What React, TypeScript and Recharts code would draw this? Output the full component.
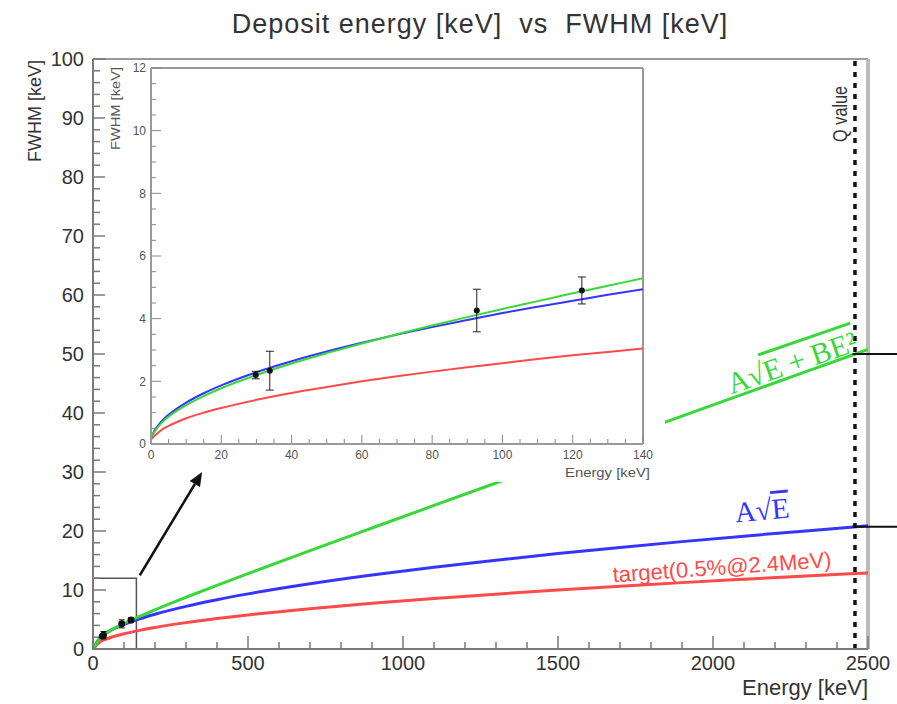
import React from "react";
import {
  ComposedChart,
  Line,
  XAxis,
  YAxis,
  Scatter,
  ErrorBar,
  ReferenceLine,
  ReferenceArea,
  ReferenceDot,
} from "recharts";

const SANS = '"Liberation Sans", Arial, Helvetica, sans-serif';
const SERIF = '"Liberation Serif", "Times New Roman", serif';
const RED = "#ff4a4a";
const BLUE = "#3535ff";
const GREEN = "#38d838";
const INK = "#333";
const FRAME = "#7a7a7a";

// full range panel, curves
const energy = [0, 25, 50, 100, 150, 200, 300, 400, 500, 700, 900, 1100, 1300, 1500, 1700, 1900, 2100, 2300, 2500];
const target = [0, 1.29, 1.82, 2.58, 3.16, 3.65, 4.47, 5.16, 5.77, 6.83, 7.74, 8.56, 9.3, 9.99, 10.64, 11.25, 11.82, 12.37, 12.9];
const sqrtFit = [0, 2.09, 2.95, 4.18, 5.11, 5.9, 7.23, 8.35, 9.34, 11.05, 12.53, 13.85, 15.05, 16.17, 17.21, 18.2, 19.13, 20.02, 20.88];
const quadFit = [0, 2.0, 2.9, 4.31, 5.52, 6.65, 8.77, 10.8, 12.78, 16.67, 20.51, 24.33, 28.13, 31.91, 35.69, 39.47, 43.24, 47.01, 50.77];

// zoomed panel (0-140 keV)
const zoomEnergy = [0, 1, 2, 4, 6, 10, 15, 20, 30, 40, 50, 60, 70, 80, 90, 100, 110, 120, 130, 140];
const zoomTarget = [0.15, 0.26, 0.36, 0.52, 0.63, 0.82, 1.0, 1.15, 1.41, 1.63, 1.82, 2.0, 2.16, 2.31, 2.45, 2.58, 2.71, 2.83, 2.94, 3.05];
const zoomSqrt = [0.2, 0.42, 0.59, 0.84, 1.02, 1.32, 1.62, 1.87, 2.29, 2.64, 2.95, 3.23, 3.49, 3.73, 3.96, 4.18, 4.38, 4.57, 4.76, 4.94];
const zoomQuad = [0.2, 0.39, 0.55, 0.78, 0.96, 1.24, 1.53, 1.78, 2.2, 2.57, 2.9, 3.21, 3.5, 3.78, 4.05, 4.31, 4.56, 4.81, 5.05, 5.29];

// measured peaks
const peakEnergy = [29.8, 33.8, 92.7, 122.6];
const peakFwhm = [2.2, 2.34, 4.26, 4.9];
const peakErr = [0.12, 0.62, 0.68, 0.43];

const Q_VALUE = 2458;
const mainXTicks = Array.from({ length: 26 }, (_, i) => i * 100);
const mainYTicks = Array.from({ length: 51 }, (_, i) => i * 2);
const zoomXTicks = Array.from({ length: 29 }, (_, i) => i * 5);
const zoomYTicks = Array.from({ length: 25 }, (_, i) => i * 0.5);

const mainRows = energy.map((e, i) => ({ e, target: target[i], sqrtFit: sqrtFit[i], quadFit: quadFit[i] }));
const zoomRows = zoomEnergy.map((e, i) => ({ e, target: zoomTarget[i], sqrtFit: zoomSqrt[i], quadFit: zoomQuad[i] }));
const peaks = peakEnergy.map((e, i) => ({ e, fwhm: peakFwhm[i], err: peakErr[i] }));

// tick marks inside the frame (ROOT style), drawn as half-length bars from the axis inward.
// unitsPerPx converts the mark length in pixels to data units of the other axis.
const marksAlongX = (ticks: number[], every: number, big: number, small: number, unitsPerPx: number) =>
  ticks.map((v) => {
    const half = ((v % every === 0 ? big : small) * unitsPerPx) / 2;
    return { e: v, fwhm: half, half };
  });
const marksAlongY = (ticks: number[], every: number, big: number, small: number, unitsPerPx: number) =>
  ticks.map((v) => {
    const half = ((v % every === 0 ? big : small) * unitsPerPx) / 2;
    return { e: half, fwhm: v, half };
  });

const mainXMarks = marksAlongX(mainXTicks, 500, 13, 7, 100 / 590);
const mainYMarks = marksAlongY(mainYTicks, 10, 13, 7, 2500 / 775);
const zoomXMarks = marksAlongX(zoomXTicks, 20, 9, 5, 12 / 376);
const zoomYMarks = marksAlongY(zoomYTicks, 2, 10, 5, 140 / 492);

type LabelOpts = { every: number; fs: number; gap: number; col: string };

// axis labels only on the major ticks
const labelX = (o: LabelOpts) => (p: any) => {
  const v = p.payload.value;
  if (v % o.every !== 0) return <g />;
  return (
    <text x={p.x} y={Number(p.y) + o.gap} textAnchor="middle" fontSize={o.fs} fill={o.col} fontFamily={SANS}>
      {v}
    </text>
  );
};

const labelY = (o: LabelOpts) => (p: any) => {
  const v = p.payload.value;
  if (v % o.every !== 0) return <g />;
  return (
    <text x={Number(p.x) - o.gap} y={p.y} dy="0.36em" textAnchor="end" fontSize={o.fs} fill={o.col} fontFamily={SANS}>
      {v}
    </text>
  );
};

const noMarker = () => <g />;

const arrowShape = (p: any) => {
  const { x1, y1, x2, y2 } = p;
  const a = Math.atan2(y2 - y1, x2 - x1);
  const len = 14;
  const half = 6;
  const bx = x2 - len * Math.cos(a);
  const by = y2 - len * Math.sin(a);
  const pts = [
    `${x2},${y2}`,
    `${bx + half * Math.sin(a)},${by - half * Math.cos(a)}`,
    `${bx - half * Math.sin(a)},${by + half * Math.cos(a)}`,
  ].join(" ");
  return (
    <g>
      <line x1={x1} y1={y1} x2={bx} y2={by} stroke="#111" strokeWidth={2.5} />
      <polygon points={pts} fill="#111" />
    </g>
  );
};

const noteAt = (render: (x: number, y: number) => React.ReactNode) => (p: any) => {
  const vb = p.viewBox || {};
  return <g>{render(vb.x, vb.y)}</g>;
};

function MainChart() {
  return (
    <ComposedChart width={897} height={704} data={mainRows} margin={{ top: 59, right: 29, bottom: 15, left: 23 }}>
      <XAxis
        dataKey="e"
        type="number"
        domain={[0, 2500]}
        allowDataOverflow
        ticks={mainXTicks}
        interval={0}
        tickSize={0}
        tickMargin={0}
        height={40}
        axisLine={{ stroke: FRAME, strokeWidth: 2 }}
        tickLine={false}
        tick={labelX({ every: 500, fs: 20, gap: 21, col: INK })}
        label={{
          content: (p: any) => (
            <text x={p.viewBox.x + p.viewBox.width} y={p.viewBox.y + 46} textAnchor="end" fontSize={22} fill={INK} fontFamily={SANS}>
              Energy [keV]
            </text>
          ),
        }}
      />
      <YAxis
        type="number"
        domain={[0, 100]}
        allowDataOverflow
        ticks={mainYTicks}
        interval={0}
        tickSize={0}
        tickMargin={0}
        width={70}
        axisLine={{ stroke: FRAME, strokeWidth: 2 }}
        tickLine={false}
        tick={labelY({ every: 10, fs: 20, gap: 9, col: INK })}
        label={{
          content: (p: any) => {
            const x = p.viewBox.x + 18;
            const y = p.viewBox.y + 1;
            return (
              <text x={x} y={y} transform={`rotate(-90 ${x} ${y})`} textAnchor="end" fontSize={18} fill={INK} fontFamily={SANS}>
                FWHM [keV]
              </text>
            );
          },
        }}
      />
      <ReferenceLine y={100} stroke="#999" strokeWidth={2} />
      <ReferenceLine x={2500} stroke="#bbb" strokeWidth={4} />
      <Scatter data={mainXMarks} dataKey="fwhm" shape={noMarker} isAnimationActive={false}>
        <ErrorBar dataKey="half" direction="y" width={0} stroke={FRAME} strokeWidth={1.5} />
      </Scatter>
      <Scatter data={mainYMarks} dataKey="fwhm" shape={noMarker} isAnimationActive={false}>
        <ErrorBar dataKey="half" direction="x" width={0} stroke={FRAME} strokeWidth={1.5} />
      </Scatter>

      <Line dataKey="target" stroke={RED} strokeWidth={3} dot={false} type="monotone" isAnimationActive={false} />
      <Line dataKey="sqrtFit" stroke={BLUE} strokeWidth={3} dot={false} type="monotone" isAnimationActive={false} />
      <Line dataKey="quadFit" stroke={GREEN} strokeWidth={3} dot={false} type="monotone" isAnimationActive={false} />
      <Scatter data={peaks} dataKey="fwhm" fill="#111" shape={(p: any) => <circle cx={p.cx} cy={p.cy} r={3.5} fill="#111" />} isAnimationActive={false}>
        <ErrorBar dataKey="err" direction="y" width={3} stroke="#111" strokeWidth={1} />
      </Scatter>

      <ReferenceArea x1={0} x2={140} y1={0} y2={12} fill="none" stroke="#555" strokeWidth={1.5} />
      <ReferenceLine segment={[{ x: 151, y: 12.5 }, { x: 352, y: 30 }]} ifOverflow="visible" shape={arrowShape} />

      <ReferenceLine x={Q_VALUE} stroke="#111" strokeWidth={3.5} strokeDasharray="5 6" />
      <ReferenceLine segment={[{ x: 2450, y: 50 }, { x: 2600, y: 50 }]} ifOverflow="visible" stroke="#111" strokeWidth={2} />
      <ReferenceLine segment={[{ x: 2450, y: 20.7 }, { x: 2600, y: 20.7 }]} ifOverflow="visible" stroke="#111" strokeWidth={2} />

      <ReferenceDot
        x={2410}
        y={90.7}
        r={0}
        ifOverflow="visible"
        label={{
          content: noteAt((x, y) => (
            <text
              x={x}
              y={y}
              transform={`rotate(-90 ${x} ${y})`}
              textAnchor="middle"
              dy="0.35em"
              fontSize={20}
              fill={INK}
              fontFamily={SANS}
              textLength={56}
              lengthAdjust="spacingAndGlyphs"
            >
              Q value
            </text>
          )),
        }}
      />
      <ReferenceDot
        x={2255}
        y={48.6}
        r={0}
        ifOverflow="visible"
        label={{
          content: noteAt((x, y) => (
            <text x={x} y={y} transform={`rotate(-19 ${x} ${y})`} textAnchor="middle" dy="0.35em" fontSize={30} fill={GREEN} fontFamily={SERIF}>
              A√<tspan textDecoration="overline">E + BE²</tspan>
            </text>
          )),
        }}
      />
      <ReferenceDot
        x={2158}
        y={23.6}
        r={0}
        ifOverflow="visible"
        label={{
          content: noteAt((x, y) => (
            <text x={x} y={y} transform={`rotate(-5 ${x} ${y})`} textAnchor="middle" dy="0.35em" fontSize={29} fill={BLUE} fontFamily={SERIF}>
              A√<tspan textDecoration="overline">E</tspan>
            </text>
          )),
        }}
      />
      <ReferenceDot
        x={2029}
        y={13.9}
        r={0}
        ifOverflow="visible"
        label={{
          content: noteAt((x, y) => (
            <text x={x} y={y} transform={`rotate(-4 ${x} ${y})`} textAnchor="middle" dy="0.35em" fontSize={22} fill={RED} fontFamily={SANS}>
              target(0.5%@2.4MeV)
            </text>
          )),
        }}
      />
    </ComposedChart>
  );
}

function ZoomChart() {
  return (
    <ComposedChart width={560} height={421} data={zoomRows} margin={{ top: 7, right: 22, bottom: 5, left: 6 }}>
      <XAxis
        dataKey="e"
        type="number"
        domain={[0, 140]}
        allowDataOverflow
        ticks={zoomXTicks}
        interval={0}
        tickSize={0}
        tickMargin={0}
        height={33}
        axisLine={{ stroke: "#999", strokeWidth: 2 }}
        tickLine={false}
        tick={labelX({ every: 20, fs: 12, gap: 15, col: "#555" })}
        label={{
          content: (p: any) => (
            <text
              x={p.viewBox.x + p.viewBox.width + 7}
              y={p.viewBox.y + 33}
              textAnchor="end"
              fontSize={12}
              fill="#555"
              fontFamily={SANS}
              textLength={85}
              lengthAdjust="spacingAndGlyphs"
            >
              Energy [keV]
            </text>
          ),
        }}
      />
      <YAxis
        type="number"
        domain={[0, 12]}
        allowDataOverflow
        ticks={zoomYTicks}
        interval={0}
        tickSize={0}
        tickMargin={0}
        width={40}
        axisLine={{ stroke: "#999", strokeWidth: 2 }}
        tickLine={false}
        tick={labelY({ every: 2, fs: 12, gap: 5, col: "#555" })}
        label={{
          content: (p: any) => {
            const x = p.viewBox.x + 9;
            const y = p.viewBox.y - 1;
            return (
              <text
                x={x}
                y={y}
                transform={`rotate(-90 ${x} ${y})`}
                textAnchor="end"
                fontSize={12}
                fill="#555"
                fontFamily={SANS}
                textLength={83}
                lengthAdjust="spacingAndGlyphs"
              >
                FWHM [keV]
              </text>
            );
          },
        }}
      />
      <ReferenceLine y={12} stroke="#999" strokeWidth={2} />
      <ReferenceLine x={140} stroke="#999" strokeWidth={2} />
      <Scatter data={zoomXMarks} dataKey="fwhm" shape={noMarker} isAnimationActive={false}>
        <ErrorBar dataKey="half" direction="y" width={0} stroke="#888" strokeWidth={1} />
      </Scatter>
      <Scatter data={zoomYMarks} dataKey="fwhm" shape={noMarker} isAnimationActive={false}>
        <ErrorBar dataKey="half" direction="x" width={0} stroke="#888" strokeWidth={1} />
      </Scatter>
      <Line dataKey="target" stroke={RED} strokeWidth={2} dot={false} type="monotone" isAnimationActive={false} />
      <Line dataKey="sqrtFit" stroke={BLUE} strokeWidth={2} dot={false} type="monotone" isAnimationActive={false} />
      <Line dataKey="quadFit" stroke={GREEN} strokeWidth={2} dot={false} type="monotone" isAnimationActive={false} />
      <Scatter data={peaks} dataKey="fwhm" shape={(p: any) => <circle cx={p.cx} cy={p.cy} r={3} fill="#111" />} isAnimationActive={false}>
        <ErrorBar dataKey="err" direction="y" width={4} stroke="#222" strokeWidth={1} />
      </Scatter>
    </ComposedChart>
  );
}

export default function App() {
  return (
    <div
      style={{
        position: "absolute",
        left: 0,
        top: 0,
        width: 897,
        height: 704,
        background: "#fff",
        overflow: "hidden",
        fontFamily: SANS,
      }}
    >
      <MainChart />
      <div
        style={{
          position: "absolute",
          left: 80,
          top: 7,
          width: 800,
          textAlign: "center",
          fontSize: 27,
          letterSpacing: 1,
          color: INK,
          lineHeight: "34px",
          whiteSpace: "pre",
        }}
      >
        {"Deposit energy [keV]  vs  FWHM [keV]"}
      </div>
      <div
        style={{
          position: "absolute",
          left: 105,
          top: 61,
          width: 560,
          height: 421,
          background: "#fff",
          clipPath: "polygon(0 0, 560px 0, 560px 421px, 110px 421px, 110px 404px, 0 404px)",
        }}
      >
        <ZoomChart />
      </div>
    </div>
  );
}
